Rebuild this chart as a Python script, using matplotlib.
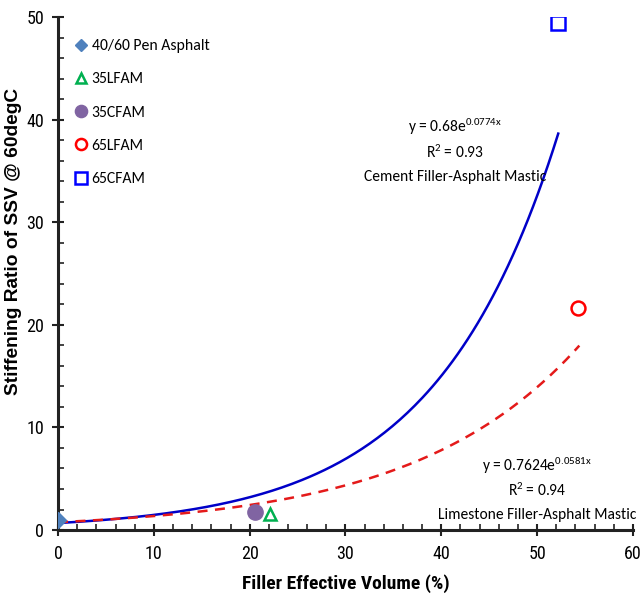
import numpy as np
import matplotlib
matplotlib.use("Agg")
import matplotlib.pyplot as plt
from matplotlib.ticker import MultipleLocator
from matplotlib import font_manager as fm

# measured points
names = ["40/60 Pen Asphalt", "35LFAM", "35CFAM", "65LFAM", "65CFAM"]
fev = [0.0, 22.1, 20.6, 54.3, 52.2]
ratio = [1.0, 1.6, 1.8, 21.6, 49.4]

# exponential trendlines printed on the chart: y = a*exp(b*x)
cem_a, cem_b, cem_r2, cem_xmax = 0.68, 0.0774, 0.93, 52.2
lim_a, lim_b, lim_r2, lim_xmax = 0.7624, 0.0581, 0.94, 54.4


def pick(cands, need_bold=False):
    fonts = fm.fontManager.ttflist
    for c in cands:
        ws = [f.weight for f in fonts if f.name == c]
        if not ws:
            continue
        if need_bold and not any(int(w) >= 600 for w in ws if str(w).isdigit()):
            continue
        return [c, "DejaVu Sans"]
    return ["Liberation Sans", "DejaVu Sans"]


calibri = pick(["Carlito", "Calibri", "PT Sans Narrow", "Open Sans Condensed",
                "Fira Sans Condensed", "Roboto Condensed", "Liberation Sans Narrow"])
narrow = pick(["Liberation Sans Narrow", "Arial Narrow", "Archivo Narrow",
               "Roboto Condensed", "PT Sans Narrow", "Pragati Narrow",
               "Fira Sans Condensed"], need_bold=True)

plt.rcParams["mathtext.fontset"] = "custom"
plt.rcParams["mathtext.rm"] = calibri[0]
plt.rcParams["mathtext.it"] = calibri[0] + ":italic"

fig = plt.figure(figsize=(6.41, 5.94), dpi=100)
ax = fig.add_axes([0.0905, 0.1077, 0.897, 0.8633])

x1 = np.linspace(0, cem_xmax, 200)
ax.plot(x1, cem_a * np.exp(cem_b * x1), color="#0000C8", lw=1.8, zorder=2)
x2 = np.linspace(0, lim_xmax, 200)
ax.plot(x2, lim_a * np.exp(lim_b * x2), color="#E41A1A", lw=1.8,
        dashes=(4, 3), zorder=2)

ax.plot(fev[0], ratio[0], "D", ms=8, color="#4F81BD", label=names[0], zorder=3)
ax.plot(fev[1], ratio[1], "^", ms=9, mfc="none", mec="#00B050", mew=1.8,
        label=names[1], zorder=3)
ax.plot(fev[2], ratio[2], "o", ms=11, color="#8064A2", label=names[2], zorder=3)
ax.plot(fev[3], ratio[3], "o", ms=10, mfc="none", mec="#FF0000", mew=1.8,
        label=names[3], zorder=3)
ax.plot(fev[4], ratio[4], "s", ms=10, mfc="none", mec="#0000FF", mew=1.8,
        label=names[4], zorder=3)

ax.legend(loc="upper left", bbox_to_anchor=(-0.003, 0.985), frameon=False,
          handletextpad=0.05, labelspacing=1.23, handlelength=1.3,
          markerscale=0.8, prop={"family": calibri, "size": 11.3})

fs = 11.2
cx, lx = 41.4, 50.0
ax.text(cx, 39.3, r"y = 0.68e$^{\mathrm{0.0774x}}$", ha="center", va="center",
        fontsize=fs, family=calibri)
ax.text(cx, 36.8, r"R$^{\mathrm{2}}$ = " + f"{cem_r2:.2f}", ha="center",
        va="center", fontsize=fs, family=calibri)
ax.text(cx, 34.4, "Cement Filler-Asphalt Mastic", ha="center", va="center",
        fontsize=fs, family=calibri)

ax.text(lx, 6.3, r"y = 0.7624e$^{\mathrm{0.0581x}}$", ha="center", va="center",
        fontsize=fs, family=calibri)
ax.text(lx, 3.9, r"R$^{\mathrm{2}}$ = " + f"{lim_r2:.2f}", ha="center",
        va="center", fontsize=fs, family=calibri)
ax.text(lx, 1.5, "Limestone Filler-Asphalt Mastic", ha="center", va="center",
        fontsize=fs, family=calibri)

ax.set_xlim(0, 60)
ax.set_ylim(0, 50)
ax.xaxis.set_major_locator(MultipleLocator(10))
ax.xaxis.set_minor_locator(MultipleLocator(2))
ax.yaxis.set_major_locator(MultipleLocator(10))
ax.yaxis.set_minor_locator(MultipleLocator(2))
ax.tick_params(which="major", direction="inout", length=8, width=1.5,
               color="#222222", labelsize=13, pad=7)
ax.tick_params(axis="y", which="major", pad=6)
ax.tick_params(which="minor", direction="in", length=4, width=1.2,
               color="#222222")
for lab in ax.get_xticklabels() + ax.get_yticklabels():
    lab.set_family(narrow)

for s in ["top", "right"]:
    ax.spines[s].set_visible(False)
for s in ["left", "bottom"]:
    ax.spines[s].set_linewidth(2.2)
    ax.spines[s].set_color("#222222")

ax.set_xlabel("Filler Effective Volume (%)", fontsize=14, fontweight="bold",
              family=narrow, labelpad=8)
ax.set_ylabel("Stiffening Ratio of SSV @ 60degC", fontsize=13.8,
              fontweight="bold", family=["Liberation Sans", "DejaVu Sans"])
ax.yaxis.set_label_coords(-0.062, 0.563)

fig.savefig("out.png", dpi=100)
